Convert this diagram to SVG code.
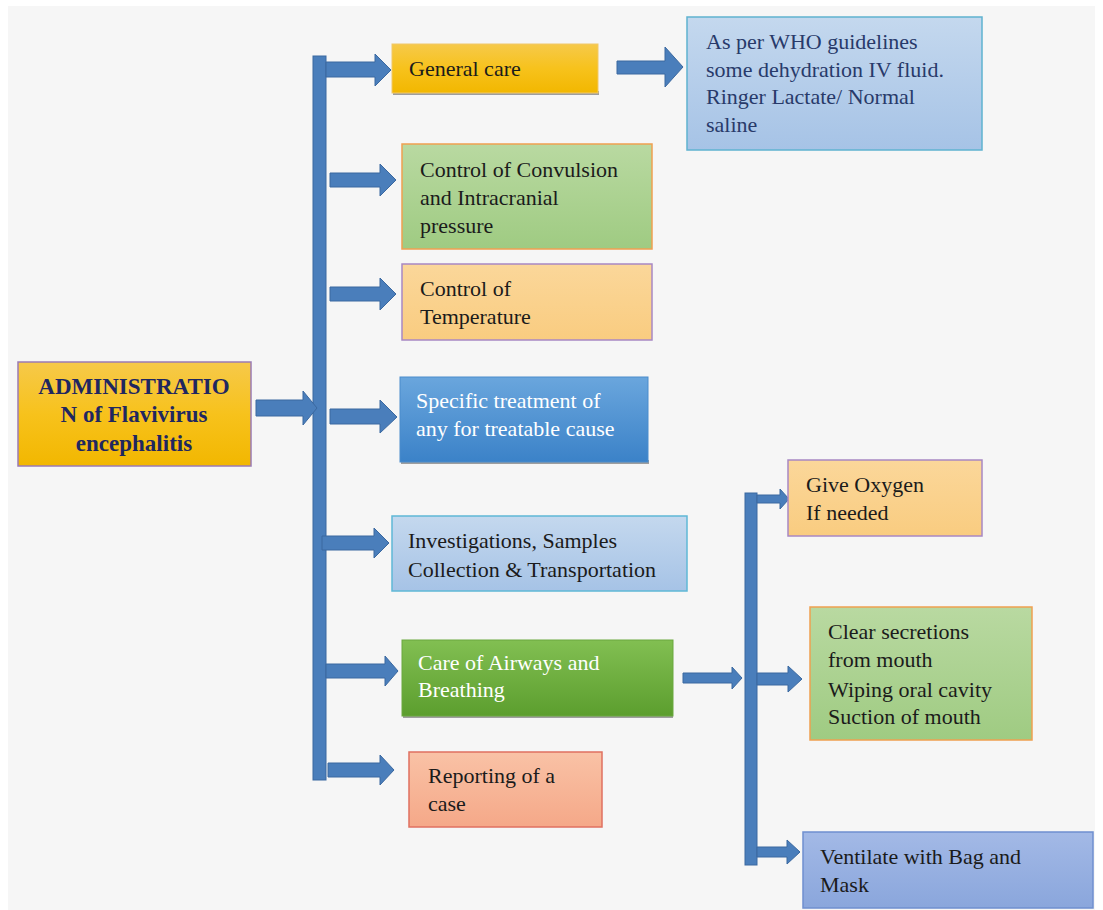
<svg xmlns="http://www.w3.org/2000/svg" width="1103" height="910" viewBox="0 0 1103 910">
<defs>
<linearGradient id="gGold" x1="0" y1="0" x2="0" y2="1"><stop offset="0" stop-color="#f6c94a"/><stop offset="0.5" stop-color="#f7c21c"/><stop offset="1" stop-color="#f2b700"/></linearGradient>
<linearGradient id="gLBlue" x1="0" y1="0" x2="0" y2="1"><stop offset="0" stop-color="#c4d8ee"/><stop offset="1" stop-color="#a6c3e6"/></linearGradient>
<linearGradient id="gLGreen" x1="0" y1="0" x2="0" y2="1"><stop offset="0" stop-color="#b9d9a1"/><stop offset="1" stop-color="#9fcb82"/></linearGradient>
<linearGradient id="gLOrange" x1="0" y1="0" x2="0" y2="1"><stop offset="0" stop-color="#fbd79a"/><stop offset="1" stop-color="#f9cc80"/></linearGradient>
<linearGradient id="gBlue" x1="0" y1="0" x2="0" y2="1"><stop offset="0" stop-color="#6aa6dd"/><stop offset="1" stop-color="#3b82c8"/></linearGradient>
<linearGradient id="gGreen" x1="0" y1="0" x2="0" y2="1"><stop offset="0" stop-color="#82bf52"/><stop offset="1" stop-color="#5c9e2e"/></linearGradient>
<linearGradient id="gSalmon" x1="0" y1="0" x2="0" y2="1"><stop offset="0" stop-color="#f9c2a6"/><stop offset="1" stop-color="#f5a888"/></linearGradient>
<linearGradient id="gLav" x1="0" y1="0" x2="0" y2="1"><stop offset="0" stop-color="#a3b9e6"/><stop offset="1" stop-color="#8aa6dc"/></linearGradient>
<style>
text{font-size:22px;fill:#1b1b1b}
.w{fill:#ffffff}
.t{font-weight:bold;fill:#1f2760;font-size:23px}
.n{fill:#283a6a}
.arr{fill:#4a7ebb;stroke:#3a68a0;stroke-width:1}
.sh{fill:#555;opacity:0.55}
</style>
</defs>
<rect x="0" y="0" width="1103" height="910" fill="#ffffff"/>
<rect x="8" y="6" width="1087" height="904" fill="#f6f6f6"/>

<g id="connectors">
<rect class="arr" x="313" y="56" width="13" height="724"/>
<path class="arr" d="M256 400H303V391L317 408L303 425V416H256Z"/>
<path class="arr" d="M326 62H375V54L391 70L375 86V77H326Z"/>
<path class="arr" d="M330 173H380V164L396 180L380 196V187H330Z"/>
<path class="arr" d="M330 287H380V278L396 294L380 310V301H330Z"/>
<path class="arr" d="M330 409H380V400L397 417L380 433V424H330Z"/>
<path class="arr" d="M322 536H374V528L389 543L374 558V550H322Z"/>
<path class="arr" d="M326 664H385V656L398 671L385 686V678H326Z"/>
<path class="arr" d="M328 763H380V755L394 770L380 785V777H328Z"/>
<path class="arr" d="M617 61H665V47L683 67L665 87V74H617Z"/>
<rect class="arr" x="745" y="493" width="12" height="372"/>
<path class="arr" d="M683 673H732V667L742 678L732 689V683H683Z"/>
<path class="arr" d="M757 495H780V489L789 499L780 509V503H757Z"/>
<path class="arr" d="M757 673H788V666L802 679L788 692V685H757Z"/>
<path class="arr" d="M757 847H787V840L800 852L787 864V857H757Z"/>
</g>

<g font-family="'Liberation Serif', 'DejaVu Serif', serif">
<g id="n-main">
<rect x="18" y="362" width="233" height="104" fill="url(#gGold)" stroke="#9a7bb5" stroke-width="1.5"/>
<text class="t" x="134" y="394" text-anchor="middle">ADMINISTRATIO</text>
<text class="t" x="134" y="422" text-anchor="middle">N of Flavivirus</text>
<text class="t" x="134" y="451" text-anchor="middle">encephalitis</text>
</g>

<g id="n-general">
<rect class="sh" x="393" y="91" width="206" height="4"/>
<rect x="392" y="44" width="206" height="49" fill="url(#gGold)" stroke="#f0c86a" stroke-width="1"/>
<text x="409" y="76">General care</text>
</g>

<g id="n-who">
<rect x="687" y="17" width="295" height="133" fill="url(#gLBlue)" stroke="#5fb3d0" stroke-width="1.5"/>
<text class="n" x="706" y="49">As per WHO guidelines</text>
<text class="n" x="706" y="77">some dehydration IV fluid.</text>
<text class="n" x="706" y="104">Ringer Lactate/ Normal</text>
<text class="n" x="706" y="132">saline</text>
</g>

<g id="n-convulsion">
<rect x="402" y="144" width="250" height="105" fill="url(#gLGreen)" stroke="#f0a050" stroke-width="1.5"/>
<text x="420" y="177">Control of Convulsion</text>
<text x="420" y="205">and Intracranial</text>
<text x="420" y="233">pressure</text>
</g>

<g id="n-temperature">
<rect x="402" y="264" width="250" height="76" fill="url(#gLOrange)" stroke="#a888c4" stroke-width="1.5"/>
<text x="420" y="296">Control of</text>
<text x="420" y="324">Temperature</text>
</g>

<g id="n-specific">
<rect class="sh" x="401" y="460" width="248" height="4"/>
<rect x="400" y="377" width="248" height="85" fill="url(#gBlue)" stroke="#4a8ccc" stroke-width="1"/>
<text class="w" x="416" y="408">Specific treatment of</text>
<text class="w" x="416" y="436">any for treatable cause</text>
</g>

<g id="n-investigations">
<rect x="392" y="516" width="295" height="75" fill="url(#gLBlue)" stroke="#5fb8d6" stroke-width="1.5"/>
<text x="408" y="548">Investigations, Samples</text>
<text x="408" y="577">Collection &amp; Transportation</text>
</g>

<g id="n-airways">
<rect class="sh" x="403" y="714" width="270" height="4"/>
<rect x="402" y="640" width="271" height="76" fill="url(#gGreen)" stroke="#6aa83e" stroke-width="1"/>
<text class="w" x="418" y="670">Care of Airways and</text>
<text class="w" x="418" y="697">Breathing</text>
</g>

<g id="n-reporting">
<rect x="409" y="752" width="193" height="75" fill="url(#gSalmon)" stroke="#e07060" stroke-width="1.5"/>
<text x="428" y="783">Reporting of a</text>
<text x="428" y="811">case</text>
</g>

<g id="n-oxygen">
<rect x="788" y="460" width="194" height="76" fill="url(#gLOrange)" stroke="#a888c4" stroke-width="1.5"/>
<text x="806" y="492">Give Oxygen</text>
<text x="806" y="520">If needed</text>
</g>

<g id="n-clear">
<rect x="810" y="607" width="222" height="133" fill="url(#gLGreen)" stroke="#f0a050" stroke-width="1.5"/>
<text x="828" y="639">Clear secretions</text>
<text x="828" y="667">from mouth</text>
<text x="828" y="697">Wiping oral cavity</text>
<text x="828" y="724">Suction of mouth</text>
</g>

<g id="n-ventilate">
<rect x="803" y="832" width="290" height="76" fill="url(#gLav)" stroke="#6f8fcf" stroke-width="1.5"/>
<text x="820" y="864">Ventilate with Bag and</text>
<text x="820" y="892">Mask</text>
</g>
</g>
</svg>
